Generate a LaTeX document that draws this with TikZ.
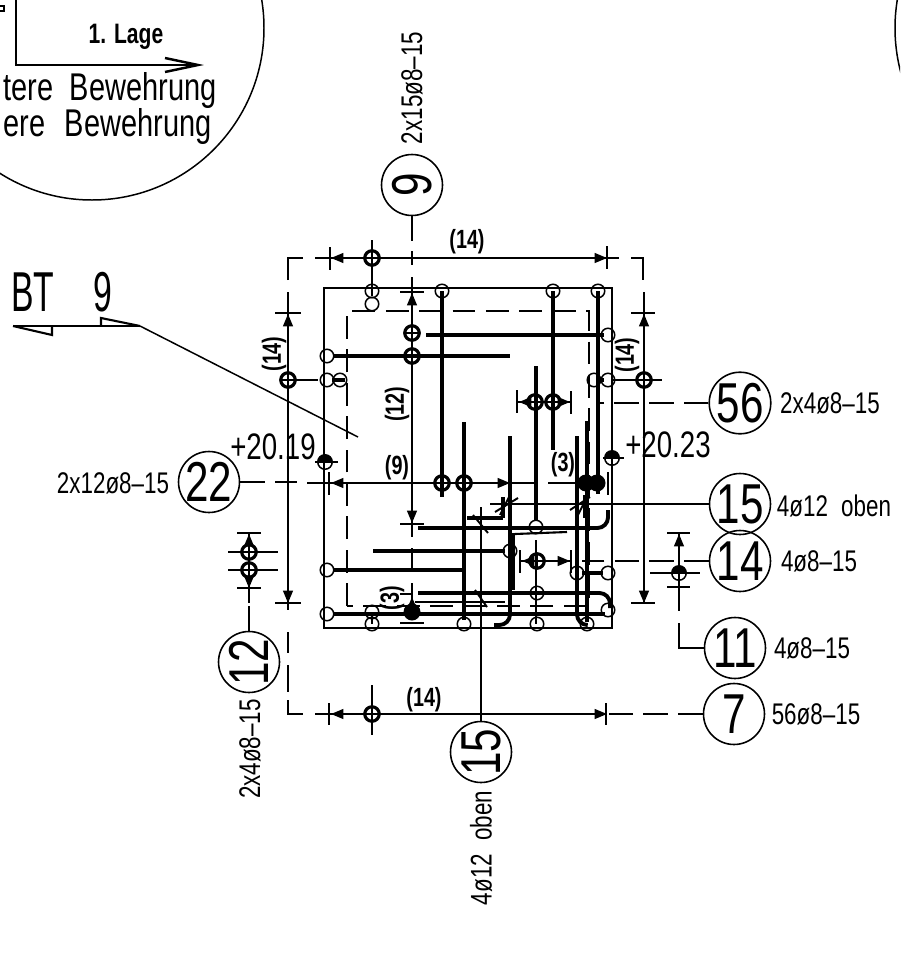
\documentclass[tikz,border=0pt]{standalone}
\usepackage{fontspec}
\setmainfont[FakeStretch=0.75]{Liberation Sans}
\newfontfamily\narrowfont[FakeStretch=0.6]{Liberation Sans}
\usetikzlibrary{arrows.meta}
\tikzset{
    thinline/.style={line width=0.85pt},
    rebar/.style={line width=2.2pt,rounded corners=6pt},
    edge line/.style={line width=1.3pt},
    leader/.style={line width=0.85pt,dash pattern=on 14pt off 5.8pt},
    dimtip/.style={line width=0.85pt,-{Triangle[length=7pt,width=5.6pt]}},
    bubble/.style={circle,draw,line width=0.9pt,minimum size=1.22cm,inner sep=0pt,font=\fontsize{32}{32}\selectfont},
    note/.style={inner sep=0pt,font=\fontsize{17}{17}\selectfont},
    dimtext/.style={inner sep=0pt,font=\fontsize{15}{15}\selectfont\bfseries},
    level/.style={inner sep=0pt,font=\fontsize{21}{21}\selectfont},
    ring/.style={circle,draw,line width=0.85pt,minimum size=0.27cm,inner sep=0pt},
    crossmark/.style={circle,draw,line width=1.8pt,minimum size=0.29cm,inner sep=0pt,
        path picture={\draw[line width=0.7pt] (path picture bounding box.north) -- (path picture bounding box.south)
            (path picture bounding box.west) -- (path picture bounding box.east);}},
    halfmark/.style={circle,draw,line width=0.85pt,minimum size=0.29cm,inner sep=0pt,
        path picture={\fill (path picture bounding box.west) rectangle (path picture bounding box.north east);}},
    blob/.style={circle,fill,minimum size=0.34cm,inner sep=0pt}
}
\begin{document}
\begin{tikzpicture}[x=0.02cm,y=-0.02cm]
    \useasboundingbox (0,0) rectangle (900,967);
    \clip (0,0) rectangle (900,967);

    % detail circles at the top
    \draw[thinline] (92,28) circle[radius=172];
    \draw[thinline] (1067,28) circle[radius=172];
    \draw[line width=1.4pt] (16,0) -- (16,65) -- (198,65);
    \draw[line width=1.4pt] (165,58) -- (198,65) -- (165,72);
    \draw[thinline] (0,6) -- (4,6) -- (4,11) -- (0,11);
    \node[inner sep=0pt,font=\fontsize{16}{16}\selectfont\bfseries] (lage) at (126,37) {1. Lage};
    \node[anchor=east,inner sep=0pt,font=\fontsize{22}{22}\selectfont] (unten) at (217,91) {tere\hspace{5pt} Bewehrung};
    \node[anchor=east,inner sep=0pt,font=\fontsize{22}{22}\selectfont] (oben) at (212,127) {ere\hspace{6.5pt} Bewehrung};

    % section mark
    \node[inner sep=0pt,font=\fontsize{32}{32}\selectfont\narrowfont] (bt) at (62,292) {BT\hspace{17pt} 9};
    \draw[line width=1.6pt] (13,326) -- (140,326);
    \draw[line width=1.2pt] (13,326) -- (52,335) -- (52,326);
    \draw[line width=1.2pt] (140,326) -- (101,318) -- (101,326);
    \coordinate (btend) at (140,326);
    \coordinate (btfoot) at (358,437);
    \draw[thinline] (btend) -- (btfoot);

    % outline
    \draw[edge line] (324,288) rectangle (612,628);
    \draw[thinline,dash pattern=on 13pt off 6pt] (347,606) -- (347,311) -- (589,311) -- (589,606) -- cycle;

    % bars
    \foreach \xa/\ya/\xb/\yb in {442/291/442/497,464/422/464/620,536/366/536/520,553/291/553/450,
        598/291/598/494,587/421/587/622,426/335/604/335,333/356/510/356,
        373/551/505/551,333/570/464/570,467/518/503/518,503/497/503/518,
        585/495/585/518,582/573/603/573,598/380/604/380,332/380/345/380,333/614/605/614}
    {
        \draw[rebar] (\xa,\ya) -- (\xb,\yb);
    }
    \draw[rebar] (418,528) -- (608,528) -- (608,510);
    \draw[rebar] (418,593) -- (610,593) -- (610,608);
    \draw[rebar] (510,436) -- (510,625) -- (494,625);
    \draw[rebar] (577,436) -- (577,625) -- (587,625);
    \draw[line width=2.8pt] (513,533) -- (513,590);
    \draw[line width=1.2pt] (515,534) -- (567,532);
    \draw[line width=1.2pt] (415,602) -- (505,602);

    % markers
    \foreach \x/\y/\n in {372/291/ra,372/304/rb,442/291/rc,553/291/rd,598/291/re,608/335/rf,
        327/356/rg,327/380/rh,340/380/ri,594/380/rj,608/380/rk,327/570/rl,327/614/rm,
        372/612/rn,372/624/ro,464/624/rp,536/527/rq,510/551/rr,577/573/rs,608/573/rt,
        537/593/ru,537/624/rv,587/624/rw,608/610/rx}
    {
        \node[ring] (\n) at (\x,\y) {};
    }
    \foreach \x/\y/\n in {372/258/ca,372/714/cb,288/380/cc,644/380/cd,412/333/ce,412/356/cf,
        535/402/cg,553/402/ch,442/483/ci,464/483/cj,537/561/ck,249/552/cl,249/570/cm}
    {
        \node[crossmark] (\n) at (\x,\y) {};
    }
    \node[halfmark] (ha) at (325,462) {};
    \node[halfmark] (hb) at (612,458) {};
    \node[halfmark] (hc) at (679,573) {};
    \node[blob] (ba) at (412,612) {};
    \node[blob] (bb) at (586,483) {};
    \node[blob] (bc) at (597,483) {};

    % bubbles
    \node[bubble,rotate=90] (b9) at (412,185) {9};
    \node[bubble] (b22) at (209,482) {22};
    \node[bubble,rotate=90] (b12) at (249,662) {12};
    \node[bubble,rotate=90] (b15u) at (481,752) {15};
    \node[bubble] (b56) at (740,403) {56};
    \node[bubble] (b15) at (740,504) {15};
    \node[bubble] (b14) at (740,561) {14};
    \node[bubble] (b11) at (735,648) {11};
    \node[bubble] (b7) at (734,714) {7};

    % bubble texts
    \node[note,rotate=90] (t9) at (412,88) {2x15ø8–15};
    \node[note] (t22) at (113,483) {2x12ø8–15};
    \node[note,rotate=90] (t12) at (250,749) {2x4ø8–15};
    \node[note,rotate=90] (t15u) at (481,848) {4ø12\hspace{4pt} oben};
    \node[note] (t56) at (830,403) {2x4ø8–15};
    \node[note] (t15) at (834,506) {4ø12\hspace{4pt} oben};
    \node[note] (t14) at (819,561) {4ø8–15};
    \node[note] (t11) at (812,648) {4ø8–15};
    \node[note] (t7) at (816,714) {56ø8–15};

    % leaders
    \coordinate (l9) at (412,265);
    \coordinate (l22) at (297,482);
    \coordinate (l56) at (598,403);
    \coordinate (l14) at (582,561);
    \coordinate (l7) at (606,714);
    \coordinate (l15) at (490,504);
    \coordinate (l15u) at (481,507);
    \coordinate (l11a) at (679,623);
    \coordinate (l11b) at (679,648);
    \coordinate (l12) at (249,603);
    \draw[leader] (b9) -- (l9);
    \draw[leader] (b22) -- (l22);
    \draw[leader] (b56) -- (l56);
    \draw[leader] (b14) -- (l14);
    \draw[leader] (b7) -- (l7);
    \draw[thinline] (b15) -- (l15);
    \draw[thinline] (b15u) -- (l15u);
    \draw[thinline] (b11) -- (l11b) -- (l11a);
    \draw[leader] (b12) -- (l12);

    % dimension lines
    \draw[thinline] (288,280) -- (288,258) -- (303,258);
    \draw[thinline] (315,258) -- (619,258);
    \draw[thinline] (631,258) -- (643,258) -- (643,280);
    \draw[thinline] (288,292) -- (288,610);
    \draw[thinline] (644,292) -- (644,603);
    \draw[thinline] (288,632) -- (288,653) (288,665) -- (288,692);
    \draw[thinline] (288,700) -- (288,714) -- (303,714);
    \draw[thinline] (315,714) -- (606,714);
    \draw[thinline] (307,483) -- (538,483) (548,483) -- (586,483);
    \draw[thinline] (412,277) -- (412,537) (412,548) -- (412,570) (412,583) -- (412,612);
    \draw[thinline] (400,594) -- (412,594);
    \draw[thinline] (517,402) -- (571,402);
    \draw[thinline] (520,561) -- (571,561);
    \draw[thinline] (536,540) -- (536,624);
    \draw[thinline] (372,240) -- (372,296) (372,685) -- (372,735);
    \draw[thinline] (372,612) -- (372,624);
    \draw[thinline] (288,380) -- (318,380) (612,380) -- (662,380);
    \draw[thinline] (679,533) -- (679,611);
    \draw[thinline] (650,573) -- (700,573);
    \draw[thinline] (249,533) -- (249,603) (228,552) -- (278,552) (228,570) -- (278,570);
    \draw[thinline] (315,462) -- (338,462) (603,458) -- (624,458);

    % ticks
    \foreach \x/\ya/\yb in {330/247/270,607/246/269,329/703/725,606/703/725,329/472/495,
        608/472/495,517/390/413,571/391/414,520/550/573,571/550/573}
    {
        \draw[thinline] (\x,\ya) -- (\x,\yb);
    }
    \foreach \y/\xa/\xb in {313/275/301,313/631/655,603/275/301,603/631/655,292/400/424,
        524/400/424,623/400/424,533/667/690,587/667/690,533/237/261,588/237/261}
    {
        \draw[thinline] (\xa,\y) -- (\xb,\y);
    }

    % arrow tips
    \foreach \xa/\ya/\xb/\yb in {344/258/331/258,594/258/607/258,344/714/331/714,594/714/607/714,
        344/483/331/483,497/483/510/483,288/328/288/314,288/590/288/603,644/328/644/314,
        644/590/644/603,412/306/412/293,412/510/412/523,412/606/412/597,530/402/519/402,
        558/402/570/402,533/561/522/561,557/561/570/561,679/547/679/534,249/544/249/534,249/578/249/588}
    {
        \draw[dimtip] (\xa,\ya) -- (\xb,\yb);
    }

    % slashes
    \foreach \xa/\ya/\xb/\yb in {495/512/518/498,500/515/510/495,570/510/590/497,578/515/588/495,
        473/515/488/533,475/590/487/607}
    {
        \draw[line width=1.1pt] (\xa,\ya) -- (\xb,\yb);
    }

    % dimension texts
    \node[dimtext] (d14a) at (467,242) {(14)};
    \node[dimtext,rotate=90] (d14b) at (274,354) {(14)};
    \node[dimtext,rotate=90] (d14c) at (627,355) {(14)};
    \node[dimtext] (d14d) at (424,700) {(14)};
    \node[dimtext,rotate=90] (d12) at (397,404) {(12)};
    \node[dimtext] (d9) at (397,468) {(9)};
    \node[dimtext] (d3a) at (563,465) {(3)};
    \node[dimtext,rotate=90] (d3b) at (392,598) {(3)};
    \node[level] (ka) at (273,447) {+20.19};
    \node[level] (kb) at (668,445) {+20.23};
\end{tikzpicture}
\end{document}
